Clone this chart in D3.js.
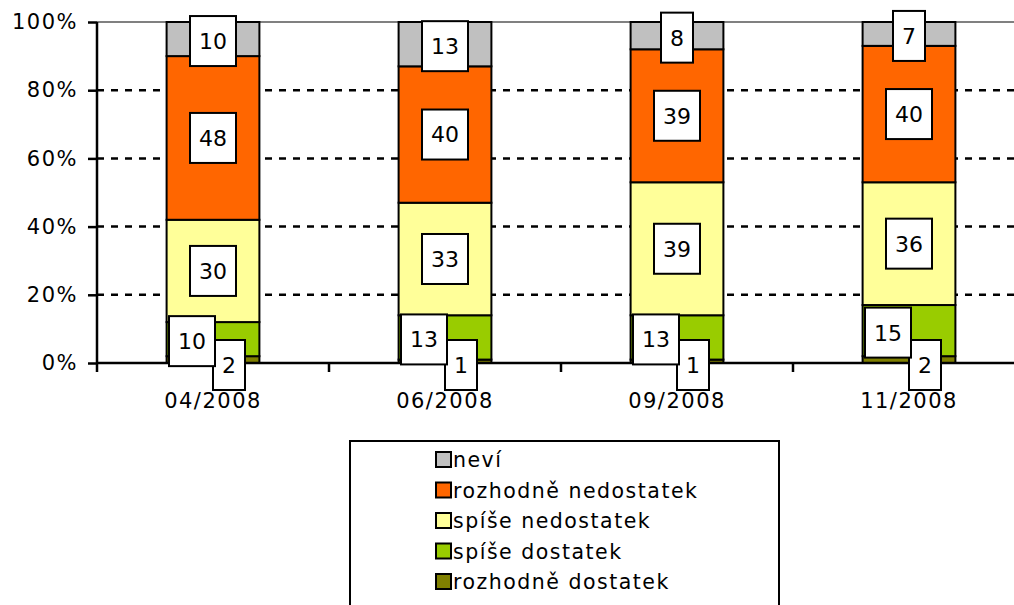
<!DOCTYPE html>
<html>
<head>
<meta charset="utf-8">
<script src="https://cdn.jsdelivr.net/npm/d3@7"></script>
<style>
  body { margin: 0; background: #fff; }
  svg { display: block; font-family: "DejaVu Sans", Verdana, sans-serif; }
</style>
</head>
<body>
<script>
var g_width = 1014
var g_height = 605
var margin = { left: 97, top: 22, right: -11, bottom: 242 }

// data
var periods = ["04/2008", "06/2008", "09/2008", "11/2008"]
var seriesNames = ["rozhodně dostatek", "spíše dostatek", "spíše nedostatek", "rozhodně nedostatek", "neví"]
var rozhodneDostatek = [2, 1, 1, 2]
var spiseDostatek = [10, 13, 13, 15]
var spiseNedostatek = [30, 33, 39, 36]
var rozhodneNedostatek = [48, 40, 39, 40]
var nevi = [10, 13, 8, 7]
var yTicks = [0, 20, 40, 60, 80, 100]

var colors = ["#808000", "#99CC00", "#FFFF99", "#FF6600", "#C0C0C0"]

var seriesValues = [rozhodneDostatek, spiseDostatek, spiseNedostatek, rozhodneNedostatek, nevi]

var rows = periods.map(function(p, i) {
    var r = { period: p }
    seriesNames.forEach(function(s, k) { r[s] = seriesValues[k][i] })
    return r
})
var stacked = d3.stack().keys(seriesNames)(rows)

var svg = d3.select("body").append("svg")
    .attr("width", g_width)
    .attr("height", g_height)

var x0 = margin.left, x1 = g_width - margin.right
var y0 = g_height - margin.bottom, y1 = margin.top

var xScale = d3.scaleBand().domain(periods).range([x0, x1]).paddingInner(0.6).paddingOuter(0.3)
var yScale = d3.scaleLinear().domain([0, 100]).range([y0, y1])

// gridlines
svg.append("g").selectAll("line")
    .data(yTicks.filter(function(t) { return t > 0 }))
    .enter().append("line")
    .attr("x1", x0).attr("x2", x1)
    .attr("y1", function(d) { return yScale(d) })
    .attr("y2", function(d) { return yScale(d) })
    .attr("stroke", function(d) { return d == 100 ? "#808080" : "#000" })
    .attr("stroke-width", function(d) { return d == 100 ? 2 : 2.5 })
    .attr("stroke-dasharray", function(d) { return d == 100 ? null : "7,7" })

// bars
var layers = svg.append("g").selectAll("g")
    .data(stacked)
    .enter().append("g")
    .attr("fill", function(d, i) { return colors[i] })

layers.selectAll("rect")
    .data(function(d) { return d })
    .enter().append("rect")
    .attr("x", function(d) { return xScale(d.data.period) })
    .attr("width", xScale.bandwidth())
    .attr("y", function(d) { return yScale(d[1]) })
    .attr("height", function(d) { return yScale(d[0]) - yScale(d[1]) })
    .attr("stroke", "#000")
    .attr("stroke-width", 2)

// axes
var yAxis = d3.axisLeft(yScale).tickValues(yTicks).tickSize(9).tickPadding(10)
    .tickFormat(function(d) { return d + "%" })
var yAxisPlot = svg.append("g")
    .attr("transform", "translate(" + x0 + ",0)")
    .call(yAxis)
yAxisPlot.select(".domain").attr("stroke-width", 2.5).attr("d", "M0," + (y0 + 9) + "V" + y1)
yAxisPlot.selectAll(".tick line").attr("stroke-width", 2.5)
yAxisPlot.selectAll("text").attr("font-size", 21).attr("fill", "#000")
    .attr("font-family", "DejaVu Sans").attr("letter-spacing", 1.5)

var xAxis = d3.axisBottom(xScale).tickSize(0).tickPadding(30)
var xAxisPlot = svg.append("g")
    .attr("transform", "translate(0," + y0 + ")")
    .call(xAxis)
xAxisPlot.select(".domain").attr("stroke-width", 2.5).attr("d", "M" + x0 + ",0H" + x1)
xAxisPlot.selectAll("text").attr("font-size", 21).attr("fill", "#000")
    .attr("font-family", "DejaVu Sans").attr("letter-spacing", 1.5)

// category separator ticks
var gap = xScale.step() - xScale.bandwidth()
svg.append("g").selectAll("line")
    .data(periods.slice(1))
    .enter().append("line")
    .attr("x1", function(d) { return xScale(d) - gap / 2 })
    .attr("x2", function(d) { return xScale(d) - gap / 2 })
    .attr("y1", y0).attr("y2", y0 + 9)
    .attr("stroke", "#000").attr("stroke-width", 2.5)

// data labels
var labels = svg.append("g")
stacked.forEach(function(layer, k) {
    layer.forEach(function(d) {
        var val = d[1] - d[0]
        var cx = xScale(d.data.period) + xScale.bandwidth() / 2
        var cy = yScale((d[0] + d[1]) / 2)
        var g = labels.append("g")
        var t = g.append("text")
            .attr("text-anchor", "middle")
            .attr("font-size", 22)
            .attr("font-family", "DejaVu Sans")
            .attr("dy", "0.36em")
            .text(val)
        var w = t.node().getComputedTextLength() + 18
        var h = 50
        var bx = cx - w / 2, by = cy - h / 2
        if (k == 0) { bx = cx; by = y0 + 2 - h / 2 }
        if (k == 1) { bx = cx + 2 - w; by = cy + 2 - h / 2 }
        if (k == 4) { by = cy + 2 - h / 2 }
        g.insert("rect", "text")
            .attr("x", bx).attr("y", by)
            .attr("width", w).attr("height", h)
            .attr("fill", "#fff").attr("stroke", "#000").attr("stroke-width", 2)
        t.attr("x", bx + w / 2).attr("y", by + h / 2)
    })
})
// keep the green labels above the dark ones like the original
labels.selectAll("g").filter(function(d, i) { return i >= 4 && i < 8 }).raise()

// legend
var legend = svg.append("g").attr("transform", "translate(350,441)")
legend.append("rect")
    .attr("width", 429).attr("height", 200)
    .attr("fill", "#fff").attr("stroke", "#000").attr("stroke-width", 2)
var legendItems = seriesNames.slice().reverse()
var legendColors = colors.slice().reverse()
var items = legend.selectAll("g.item")
    .data(legendItems)
    .enter().append("g")
    .attr("class", "item")
    .attr("transform", function(d, i) { return "translate(86," + (11 + i * 30.5) + ")" })
items.append("rect")
    .attr("width", 15).attr("height", 15)
    .attr("fill", function(d, i) { return legendColors[i] })
    .attr("stroke", "#000").attr("stroke-width", 2)
items.append("text")
    .attr("x", 17).attr("y", 8)
    .attr("dy", "0.36em")
    .attr("font-size", 20.5)
    .attr("letter-spacing", 1.5)
    .text(function(d) { return d })
</script>
</body>
</html>
